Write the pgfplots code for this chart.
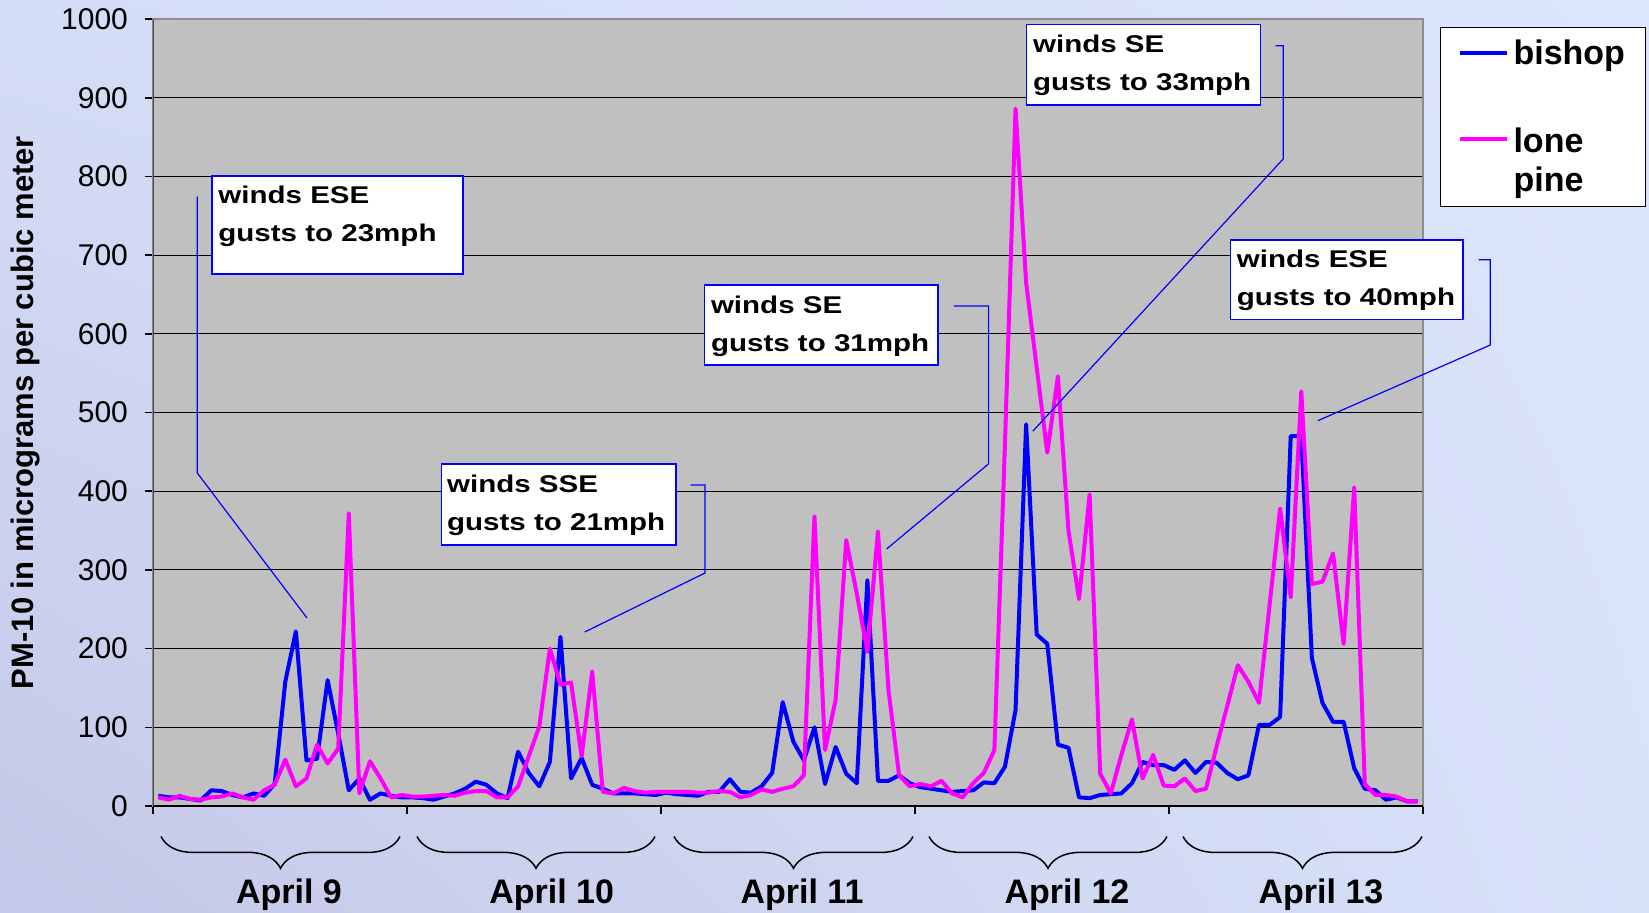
\documentclass[border=0pt]{standalone}
\usepackage{fontspec}
\setmainfont{Liberation Sans}
\newfontfamily\boxfont[FakeStretch=1.22]{Liberation Sans}
\usepackage{pgfplots}
\usepackage{pgfplotstable}
\pgfplotsset{compat=1.18}
\usetikzlibrary{decorations.pathreplacing,shadings}
\definecolor{plotbg}{HTML}{C0C0C0}
\definecolor{plotborder}{HTML}{8C8C8C}
\definecolor{bgLL}{RGB}{197,200,232}
\definecolor{bgUL}{RGB}{212,221,246}
\definecolor{bgLR}{RGB}{216,226,249}
\definecolor{bgUR}{RGB}{219,229,251}
\definecolor{bshblue}{RGB}{0,0,255}
\definecolor{lppink}{RGB}{255,0,255}

\pgfplotstableread{
i b p
0 13 11
1 11 8
2 11 13
3 9 9
4 7 8
5 20 11
6 19 12
7 14 16
8 11 11
9 16 8
10 13 20
11 28 27
12 158 59
13 222 25
14 58 35
15 60 78
16 160 54
17 92 73
18 20 372
19 35 16
20 8 57
21 16 35
22 13 11
23 11 14
24 11 12
25 10 12
26 8 13
27 12 14
28 16 13
29 22 17
30 31 19
31 27 19
32 16 11
33 10 11
34 69 25
35 42 63
36 25 101
37 56 200
38 215 154
39 35 157
40 61 63
41 27 171
42 22 18
43 16 16
44 16 23
45 16 19
46 15 17
47 14 18
48 17 18
49 15 18
50 14 18
51 13 17
52 18 17
53 18 19
54 34 18
55 18 11
56 17 14
57 25 21
58 42 18
59 132 22
60 82 25
61 58 39
62 100 368
63 28 71
64 75 135
65 41 338
66 29 270
67 287 196
68 32 349
69 32 147
70 39 39
71 29 25
72 24 28
73 22 25
74 20 32
75 18 16
76 19 11
77 20 29
78 30 42
79 29 71
80 50 460
81 122 886
82 485 665
83 218 557
84 206 449
85 78 546
86 74 350
87 11 263
88 10 396
89 14 41
90 15 16
91 16 65
92 29 110
93 56 35
94 52 65
95 52 26
96 46 25
97 58 35
98 42 19
99 56 22
100 55 76
101 42 127
102 34 179
103 39 158
104 103 131
105 103 255
106 113 378
107 470 265
108 470 527
109 188 282
110 131 285
111 107 321
112 107 206
113 48 405
114 22 28
115 20 14
116 8 14
117 11 12
118 6 6
119 6 6
}\datatable

\begin{document}
\begin{tikzpicture}[x=0.5pt,y=-0.5pt]
\shade[upper left=bgUL, upper right=bgUR, lower left=bgLL, lower right=bgLR] (0,0) rectangle (1649,912);
\begin{axis}[
  at={(76.5pt,-403pt)}, anchor=south west,
  scale only axis, width=635pt, height=393.5pt,
  xmin=-0.5, xmax=119.5, ymin=0, ymax=1000,
  xtick={-0.5,23.5,47.5,71.5,95.5,119.5}, xticklabels={},
  ytick={0,100,...,1000},
  tick align=outside, tick pos=left,
  major tick length=4pt,
  tick style={black, line width=0.8pt},
  ymajorgrids, major grid style={black, line width=0.5pt},
  axis background/.style={fill=plotbg},
  axis line style={draw=plotborder, line width=1pt},
  tick label style={font=\fontsize{15}{18}\selectfont},
  yticklabel style={xshift=-5pt},
  /pgf/number format/assume math mode=true,
  /pgf/number format/1000 sep={},
  ylabel={PM-10 in micrograms per cubic meter},
  ylabel style={font=\fontsize{15.5}{18}\selectfont\bfseries, at={(axis description cs:-0.1,0.5)}, anchor=center},
  legend style={
    at={(axis description cs:1.01339,0.99)}, anchor=north west,
    draw=black, line width=0.5pt, fill=white,
    inner xsep=8.5pt, inner ysep=4pt,
    font=\fontsize{17}{19.2}\selectfont\bfseries,
    cells={anchor=west, align=left, inner sep=0pt},
    column sep=0.5pt, row sep=26.5pt,
  },
  legend image code/.code={\draw[#1] (0pt,0pt) -- (23.5pt,0pt);},
]
\addplot[bshblue, line width=2pt, line join=round] table[x=i, y=b] {\datatable};
\addlegendentry{bishop}
\addplot[lppink, line width=2pt, line join=round,
  legend image code/.code={\path (0pt,-11pt); \draw[lppink, line width=2pt] (0pt,11pt) -- (23.5pt,11pt);}] table[x=i, y=p] {\datatable};
\addlegendentry{lone\\pine}
\draw[black, line width=1pt] (rel axis cs:0,0) -- (rel axis cs:1,0);
\draw[black!70, line width=1.2pt] (rel axis cs:0,0) -- (rel axis cs:0,1);
\end{axis}

% callouts
\tikzset{cbox/.style={fill=white, draw=bshblue, line width=0.75pt},
         lead/.style={draw=bshblue, line width=0.6pt},
         ctext/.style={anchor=base west, inner sep=0pt, font=\boxfont\bfseries\fontsize{12.1}{14}\selectfont}}
% 1
\draw[lead] (197.3,196.7) -- (197.3,473) -- (307,618);
\filldraw[cbox] (212,176) rectangle (463,274);
\node[ctext] at (218,203.3) {winds ESE};
\node[ctext] at (218,241.3) {gusts to 23mph};
% 2
\draw[lead] (690.7,485) -- (705,485) -- (705,573) -- (584.7,632);
\filldraw[cbox] (441.7,464) rectangle (676,545);
\node[ctext] at (446.7,492.3) {winds SSE};
\node[ctext] at (446.7,530.3) {gusts to 21mph};
% 3
\draw[lead] (953.9,306) -- (988.6,306) -- (988.6,463.8) -- (886.6,549);
\filldraw[cbox] (704.6,285) rectangle (938.1,365);
\node[ctext] at (710.6,313) {winds SE};
\node[ctext] at (710.6,351) {gusts to 31mph};
% 4
\draw[lead] (1275.7,45.7) -- (1283.3,45.7) -- (1283.3,158.8) -- (1032.8,431.2);
\filldraw[cbox] (1026.7,24.3) rectangle (1260.7,105);
\node[ctext] at (1032.7,52.3) {winds SE};
\node[ctext] at (1032.7,90.3) {gusts to 33mph};
% 5
\draw[lead] (1478.7,259.8) -- (1490.3,259.8) -- (1490.3,345) -- (1317.8,420.7);
\filldraw[cbox] (1230.5,239.8) rectangle (1463,319.7);
\node[ctext] at (1236.5,267.8) {winds ESE};
\node[ctext] at (1236.5,305.8) {gusts to 40mph};

% braces and day labels
\tikzset{br/.style={decorate, decoration={brace, mirror, amplitude=15.9pt}, line width=0.75pt, black},
         day/.style={anchor=base, inner sep=0pt, font=\fontsize{17}{20}\selectfont\bfseries}}
\draw[br] (161,836.5) -- (400,836.5);
\draw[br] (417,836.5) -- (655,836.5);
\draw[br] (674,836.5) -- (913,836.5);
\draw[br] (929,836.5) -- (1167,836.5);
\draw[br] (1183,836.5) -- (1422,836.5);
\node[day] at (289,903.5) {April 9};
\node[day] at (551.6,903.5) {April 10};
\node[day] at (802,903.5) {April 11};
\node[day] at (1067,903.5) {April 12};
\node[day] at (1321,903.5) {April 13};
\end{tikzpicture}
\end{document}
